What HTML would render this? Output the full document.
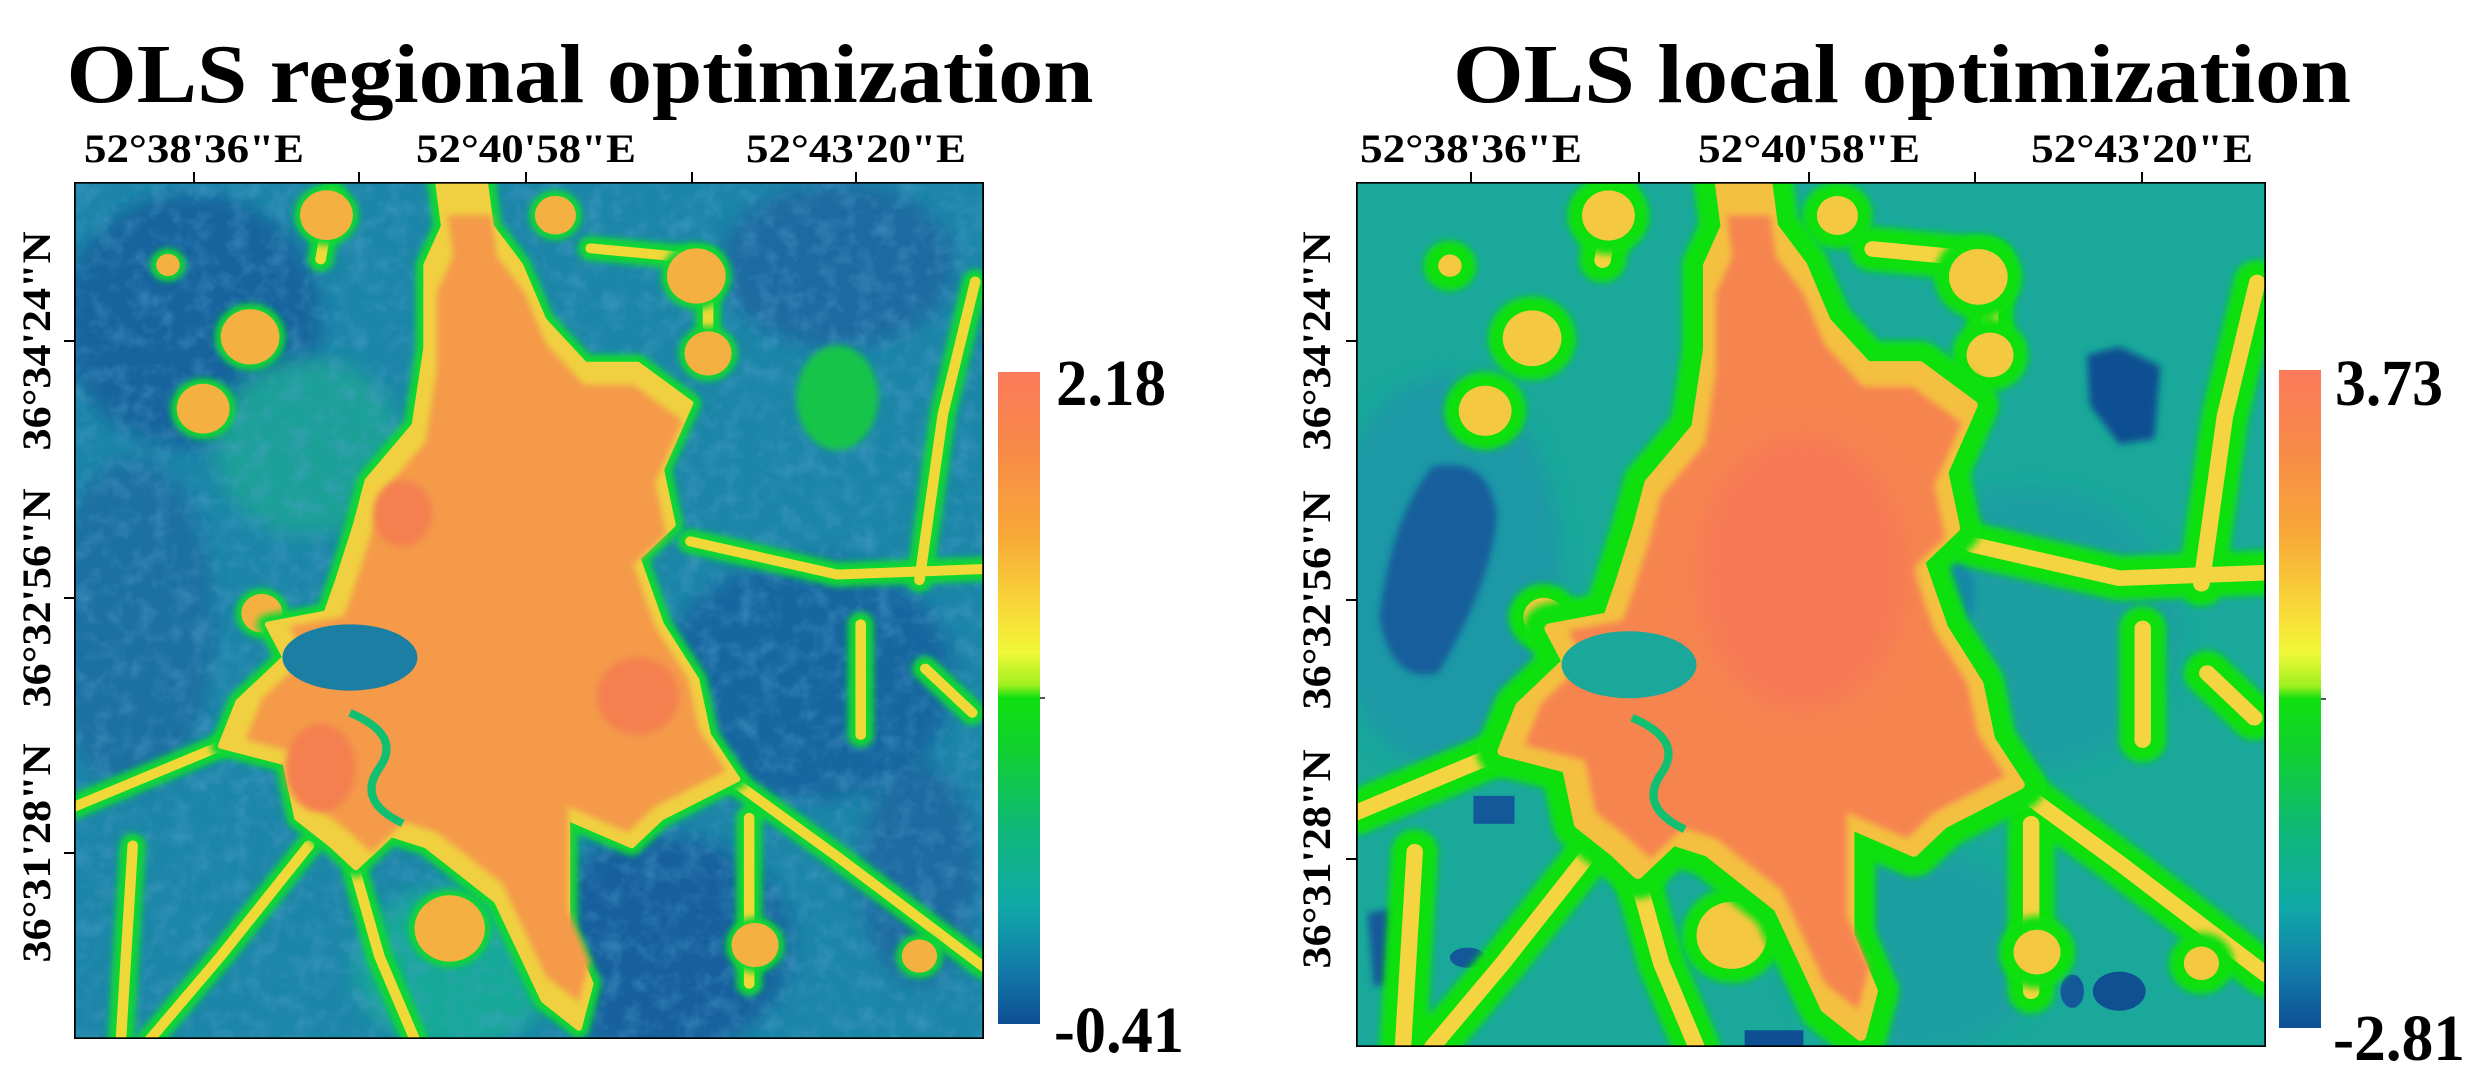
<!DOCTYPE html>
<html><head><meta charset="utf-8"><style>
html,body{margin:0;padding:0;background:#fff;}
svg{display:block;}
text{font-family:"Liberation Serif",serif;font-weight:bold;fill:#000;}
</style></head><body>
<svg width="2487" height="1067" viewBox="0 0 2487 1067" xmlns="http://www.w3.org/2000/svg">
<defs>
<linearGradient id="cb" x1="0" y1="0" x2="0" y2="1">
<stop offset="0" stop-color="#fa7a5a"/>
<stop offset="0.12" stop-color="#f88a48"/>
<stop offset="0.25" stop-color="#f8a838"/>
<stop offset="0.38" stop-color="#f8e038"/>
<stop offset="0.43" stop-color="#f0f838"/>
<stop offset="0.48" stop-color="#a0f020"/>
<stop offset="0.5" stop-color="#10e010"/>
<stop offset="0.58" stop-color="#10d030"/>
<stop offset="0.7" stop-color="#10b878"/>
<stop offset="0.82" stop-color="#10a8a8"/>
<stop offset="0.92" stop-color="#1278a8"/>
<stop offset="1" stop-color="#0e4f94"/>
</linearGradient>
<filter id="bl" x="-10%" y="-10%" width="120%" height="120%"><feGaussianBlur stdDeviation="18"/></filter>
<filter id="bs" x="-10%" y="-10%" width="120%" height="120%"><feGaussianBlur stdDeviation="6"/></filter>
<filter id="noise" x="0" y="0" width="100%" height="100%">
<feTurbulence type="fractalNoise" baseFrequency="0.03" numOctaves="3" seed="4" result="n"/>
<feColorMatrix in="n" type="matrix" values="0 0 0 0 0.08  0 0 0 0 0.35  0 0 0 0 0.6  0 0 0 -2.2 1.25"/>
</filter>
<filter id="noiseY" x="0" y="0" width="100%" height="100%">
<feTurbulence type="fractalNoise" baseFrequency="0.06" numOctaves="2" seed="9" result="n"/>
<feColorMatrix in="n" type="matrix" values="0 0 0 0 0.96  0 0 0 0 0.85  0 0 0 0 0.3  0 0 0 -3 1.6"/>
</filter>
<path id="city" d="M620,0 L700,0 L710,80 L760,150 L800,250 L870,330 L960,330 L1050,400 L1000,520 L1020,620 L960,680 L1000,800 L1060,900 L1080,1000 L1130,1080 L1000,1150 L950,1200 L840,1150 L840,1350 L880,1450 L860,1530 L800,1480 L720,1300 L660,1250 L600,1200 L540,1180 L480,1240 L440,1200 L380,1150 L360,1050 L250,1020 L280,940 L360,860 L330,800 L430,780 L450,720 L480,620 L500,540 L580,440 L600,300 L600,150 L630,80 Z"/>
<g id="roads">
<path d="M0,1130 L250,1020" />
<path d="M1040,1020 L1300,1220 L1550,1420" />
<path d="M1535,180 L1480,420 L1440,720" />
<path d="M1050,650 L1300,710 L1550,700" />
<path d="M1340,800 L1340,1000" />
<path d="M400,1200 L250,1400 L130,1550" />
<path d="M480,1250 L520,1400 L580,1550" />
<path d="M80,1550 L100,1200" />
<path d="M1150,1150 L1150,1450" />
<path d="M440,20 L420,140" />
<path d="M880,120 L1080,140 L1080,260" />
<path d="M1450,880 L1530,960" />
</g>
<g id="blobs">
<circle cx="430" cy="60" r="45"/><circle cx="300" cy="280" r="50"/><circle cx="220" cy="410" r="45"/>
<circle cx="160" cy="150" r="20"/><circle cx="1060" cy="170" r="50"/><circle cx="1080" cy="310" r="40"/>
<circle cx="820" cy="60" r="35"/><circle cx="640" cy="1350" r="60"/><circle cx="1160" cy="1380" r="40"/>
<circle cx="320" cy="780" r="35"/><circle cx="1440" cy="1400" r="30"/>
</g>
</defs>

<text x="580" y="102" font-size="84" text-anchor="middle" textLength="1027" lengthAdjust="spacingAndGlyphs">OLS regional optimization</text>
<text x="1902" y="102" font-size="84" text-anchor="middle" textLength="898" lengthAdjust="spacingAndGlyphs">OLS local optimization</text>

<!-- LEFT MAP -->
<svg x="74" y="182" width="910" height="857" viewBox="0 0 1550 1550" preserveAspectRatio="none">
<rect width="1550" height="1550" fill="#1c86a8"/>
<g filter="url(#bl)">
<ellipse cx="200" cy="250" rx="220" ry="230" fill="#17639e"/>
<ellipse cx="100" cy="800" rx="140" ry="300" fill="#1a6fa2"/>
<ellipse cx="1000" cy="1380" rx="220" ry="200" fill="#16609e"/>
<ellipse cx="1250" cy="900" rx="250" ry="220" fill="#1866a0"/>
<ellipse cx="1300" cy="150" rx="200" ry="150" fill="#1a6aa2"/>
<ellipse cx="650" cy="1420" rx="170" ry="150" fill="#18a898"/>
<ellipse cx="400" cy="480" rx="160" ry="160" fill="#1aa098"/>
<ellipse cx="1440" cy="1250" rx="100" ry="200" fill="#1a6aa2"/>
</g>
<rect width="1550" height="1550" filter="url(#noise)" opacity="0.45"/>
<ellipse cx="1300" cy="390" rx="70" ry="95" fill="#12c44a" filter="url(#bs)"/>
<g fill="none" stroke="#10d830" stroke-width="44" stroke-linecap="round" stroke-linejoin="round" filter="url(#bs)"><use href="#roads"/></g>
<g fill="none" stroke="#f0d838" stroke-width="18" stroke-linecap="round" stroke-linejoin="round"><use href="#roads"/></g>
<g fill="#10d830" stroke="#10d830" stroke-width="20" filter="url(#bs)"><use href="#blobs"/></g>
<g fill="#f4b040"><use href="#blobs"/></g>
<use href="#city" fill="#10d830" stroke="#10d830" stroke-width="36" stroke-linejoin="round" filter="url(#bs)"/>
<use href="#city" fill="#f0d040" stroke="#f0d040" stroke-width="10" stroke-linejoin="round"/>
<use href="#city" fill="#f49a48" transform="translate(60,60) scale(0.93)" filter="url(#bs)"/>
<g filter="url(#bs)" fill="#f4804f">
<ellipse cx="960" cy="930" rx="70" ry="70"/><ellipse cx="420" cy="1060" rx="60" ry="80"/><ellipse cx="560" cy="600" rx="50" ry="60"/>
</g>
<ellipse cx="470" cy="860" rx="115" ry="60" fill="#1a7fa2"/>
<path d="M470,960 Q560,1000 520,1060 Q480,1120 560,1160" fill="none" stroke="#10c070" stroke-width="14"/>
<rect x="0" y="0" width="1550" height="1550" fill="none" stroke="#000" stroke-width="6"/>
</svg>

<!-- RIGHT MAP -->
<svg x="1356" y="182" width="910" height="865" viewBox="0 0 1550 1550" preserveAspectRatio="none">
<rect width="1550" height="1550" fill="#19a89a"/>
<g filter="url(#bl)">
<ellipse cx="150" cy="700" rx="200" ry="350" fill="#1a98a6"/>
<ellipse cx="1150" cy="800" rx="250" ry="250" fill="#1a9ea2"/>
<ellipse cx="950" cy="1380" rx="220" ry="180" fill="#1a9ea2"/>
</g>
<path d="M130,510 Q230,490 240,600 Q230,720 140,880 Q60,900 40,780 Q60,600 130,510 Z" fill="#155e9c" filter="url(#bs)"/>
<path d="M1245,310 L1300,295 L1370,330 L1360,460 L1300,470 L1250,400 Z" fill="#0f4f92" filter="url(#bs)"/>
<path d="M20,1310 L70,1300 L80,1440 L30,1440 Z" fill="#13599a" filter="url(#bs)"/>
<ellipse cx="190" cy="1390" rx="30" ry="18" fill="#14579a"/>
<ellipse cx="1300" cy="1450" rx="45" ry="35" fill="#0f4f92"/>
<ellipse cx="1220" cy="1450" rx="20" ry="30" fill="#13599a"/>
<rect x="200" y="1100" width="70" height="50" fill="#13599a"/>
<ellipse cx="1010" cy="740" rx="45" ry="70" fill="#1888a8" filter="url(#bs)"/>
<rect x="662" y="1520" width="100" height="30" fill="#0e4f94"/>
<g fill="none" stroke="#10e010" stroke-width="80" stroke-linecap="round" stroke-linejoin="round" filter="url(#bs)"><use href="#roads"/></g>
<g fill="none" stroke="#f4d440" stroke-width="28" stroke-linecap="round" stroke-linejoin="round"><use href="#roads"/></g>
<g fill="#10e010" stroke="#10e010" stroke-width="50" filter="url(#bs)"><use href="#blobs"/></g>
<g fill="#f4c840"><use href="#blobs"/></g>
<use href="#city" fill="#10e010" stroke="#10e010" stroke-width="90" stroke-linejoin="round" filter="url(#bs)"/>
<use href="#city" fill="#f4c040" stroke="#f4c040" stroke-width="18" stroke-linejoin="round"/>
<use href="#city" fill="#f68450" transform="translate(55,60) scale(0.93)" filter="url(#bs)"/>
<ellipse cx="760" cy="700" rx="180" ry="250" fill="#f67a55" filter="url(#bl)"/>
<ellipse cx="465" cy="865" rx="115" ry="60" fill="#19a89a"/>
<path d="M470,960 Q560,1000 520,1060 Q480,1120 560,1160" fill="none" stroke="#10c070" stroke-width="14"/>
<rect x="0" y="0" width="1550" height="1550" fill="none" stroke="#000" stroke-width="6"/>
</svg>

<g stroke="#000" stroke-width="2">
<line x1="194" y1="172" x2="194" y2="182"/><line x1="359" y1="172" x2="359" y2="182"/><line x1="526" y1="172" x2="526" y2="182"/><line x1="692" y1="172" x2="692" y2="182"/><line x1="856" y1="172" x2="856" y2="182"/>
<line x1="64" y1="341" x2="74" y2="341"/><line x1="64" y1="598" x2="74" y2="598"/><line x1="64" y1="853" x2="74" y2="853"/>
<line x1="1471" y1="172" x2="1471" y2="182"/><line x1="1639" y1="172" x2="1639" y2="182"/><line x1="1809" y1="172" x2="1809" y2="182"/><line x1="1975" y1="172" x2="1975" y2="182"/><line x1="2142" y1="172" x2="2142" y2="182"/>
<line x1="1346" y1="341" x2="1356" y2="341"/><line x1="1346" y1="600" x2="1356" y2="600"/><line x1="1346" y1="859" x2="1356" y2="859"/>
</g>
<g font-size="40">
<text x="194" y="162" text-anchor="middle" textLength="220" lengthAdjust="spacingAndGlyphs">52°38'36"E</text>
<text x="526" y="162" text-anchor="middle" textLength="220" lengthAdjust="spacingAndGlyphs">52°40'58"E</text>
<text x="856" y="162" text-anchor="middle" textLength="220" lengthAdjust="spacingAndGlyphs">52°43'20"E</text>
<text x="1471" y="162" text-anchor="middle" textLength="222" lengthAdjust="spacingAndGlyphs">52°38'36"E</text>
<text x="1809" y="162" text-anchor="middle" textLength="222" lengthAdjust="spacingAndGlyphs">52°40'58"E</text>
<text x="2142" y="162" text-anchor="middle" textLength="222" lengthAdjust="spacingAndGlyphs">52°43'20"E</text>
<text transform="translate(50,341) rotate(-90)" text-anchor="middle" textLength="219" lengthAdjust="spacingAndGlyphs">36°34'24"N</text>
<text transform="translate(50,598) rotate(-90)" text-anchor="middle" textLength="219" lengthAdjust="spacingAndGlyphs">36°32'56"N</text>
<text transform="translate(50,853) rotate(-90)" text-anchor="middle" textLength="219" lengthAdjust="spacingAndGlyphs">36°31'28"N</text>
<text transform="translate(1330,341) rotate(-90)" text-anchor="middle" textLength="219" lengthAdjust="spacingAndGlyphs">36°34'24"N</text>
<text transform="translate(1330,600) rotate(-90)" text-anchor="middle" textLength="219" lengthAdjust="spacingAndGlyphs">36°32'56"N</text>
<text transform="translate(1330,859) rotate(-90)" text-anchor="middle" textLength="219" lengthAdjust="spacingAndGlyphs">36°31'28"N</text>
</g>

<rect x="998" y="372" width="42" height="652" fill="url(#cb)"/>
<line x1="1040" y1="698" x2="1045" y2="698" stroke="#555" stroke-width="2"/>
<rect x="2279" y="370" width="42" height="658" fill="url(#cb)"/>
<line x1="2321" y1="699" x2="2326" y2="699" stroke="#555" stroke-width="2"/>
<g font-size="66">
<text x="1056" y="405" textLength="110" lengthAdjust="spacingAndGlyphs">2.18</text>
<text x="1054" y="1052" textLength="130" lengthAdjust="spacingAndGlyphs">-0.41</text>
<text x="2335" y="405" textLength="108" lengthAdjust="spacingAndGlyphs">3.73</text>
<text x="2333" y="1060" textLength="132" lengthAdjust="spacingAndGlyphs">-2.81</text>
</g>
</svg>
</body></html>
